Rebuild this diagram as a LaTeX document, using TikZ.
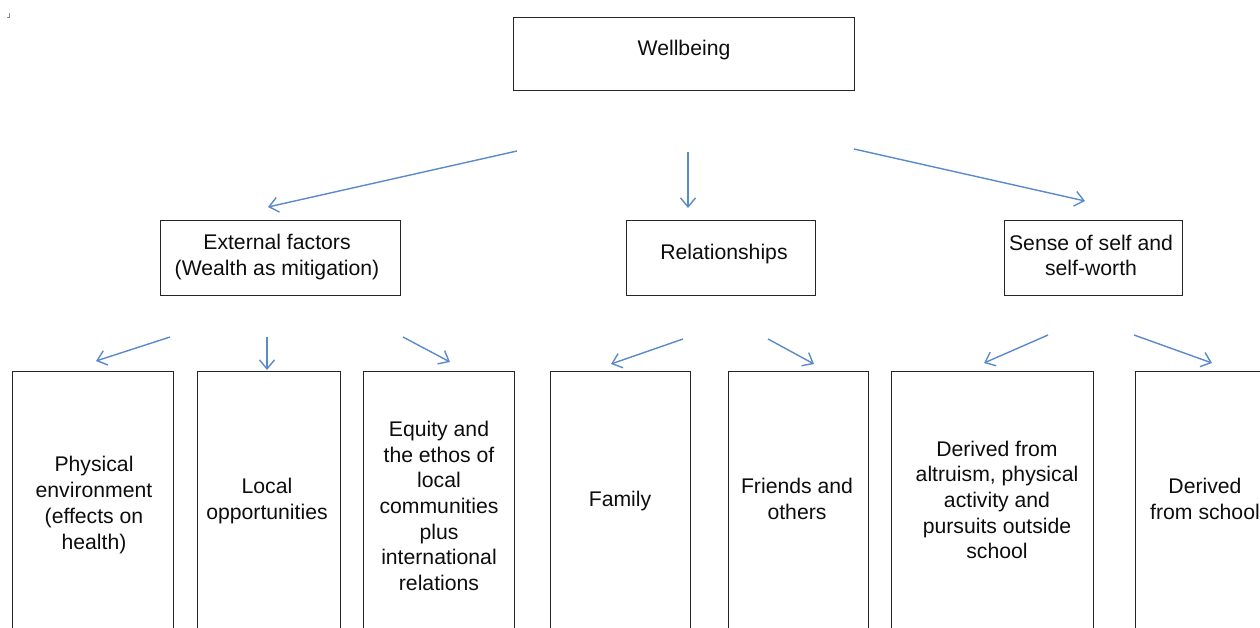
\documentclass[tikz,border=0pt]{standalone}
\usepackage{fontspec}
\setmainfont{Liberation Sans}
\usetikzlibrary{arrows.meta}
\definecolor{arrowblue}{HTML}{5A8ACB}
\definecolor{boxline}{HTML}{262626}
\begin{document}
\begin{tikzpicture}[x=1pt,y=-1pt,
  box/.style={draw=boxline, line width=0.95pt, inner sep=0pt, minimum height=#1},
  box/.default=75pt,
  txt/.style={font=\fontsize{21.2}{25.7}\selectfont, align=center, inner sep=0pt, text=black!95},
  conn/.style={draw=arrowblue, line width=1.4pt, -{Straight Barb[length=9pt,width=15pt,line width=1.4pt]}},
  cornermark/.style={draw=black!45, line width=0.8pt}]
\useasboundingbox (0,0) rectangle (1260,628);
\clip (0,0) rectangle (1260,628);
% small mark at top left
\coordinate (m1) at (9.5,13);
\coordinate (m2) at (9.5,17.5);
\coordinate (m3) at (7,17.5);
\draw[cornermark] (m1) -- (m2) -- (m3);
% top box
\node[box=73pt, minimum width=341pt] (wb) at (683.5,53.5) {};
\node[txt] (wbt) at (684,50) {Wellbeing};
% second row
\node[box, minimum width=240pt] (ext) at (280,257.5) {};
\node[txt] (extt) at (277,257) {External factors\\(Wealth as mitigation)};
\node[box, minimum width=189pt] (rel) at (720.5,257.5) {};
\node[txt] (relt) at (724,254) {Relationships};
\node[box, minimum width=178pt] (self) at (1093,257.5) {};
\node[txt] (selft) at (1091,255.5) {Sense of self and\\self-worth};
% third row
\node[box=259pt, minimum width=161pt] (phy) at (92.5,500.5) {};
\node[txt] (phyt) at (94,505) {Physical\\environment\\(effects on\\health)};
\node[box=259pt, minimum width=143pt] (loc) at (268.5,500.5) {};
\node[txt] (loct) at (267,501) {Local\\opportunities};
\node[box=259pt, minimum width=151pt] (equ) at (438.5,500.5) {};
\node[txt] (equt) at (439,506) {Equity and\\the ethos of\\local\\communities\\plus\\international\\relations};
\node[box=259pt, minimum width=140pt] (fam) at (620,500.5) {};
\node[txt] (famt) at (620,501) {Family};
\node[box=259pt, minimum width=140pt] (fri) at (798,500.5) {};
\node[txt] (frit) at (797,499) {Friends and\\others};
\node[box=259pt, minimum width=202pt] (der) at (992,500.5) {};
\node[txt] (dert) at (997,500) {Derived from\\altruism, physical\\activity and\\pursuits outside\\school};
\node[box=259pt, minimum width=142pt] (sch) at (1206,500.5) {};
\node[txt] (scht) at (1205,499) {Derived\\from school};
% arrow end points
\coordinate (wbA) at (517,151);  \coordinate (extIn) at (268,207);
\coordinate (wbB) at (688,152);  \coordinate (relIn) at (688,208);
\coordinate (wbC) at (854,149);  \coordinate (selfIn) at (1085,201);
\coordinate (extA) at (170,337); \coordinate (phyIn) at (96,361);
\coordinate (extB) at (267,337); \coordinate (locIn) at (267,370);
\coordinate (extC) at (403,337); \coordinate (equIn) at (450,362);
\coordinate (relA) at (683,339); \coordinate (famIn) at (611,364);
\coordinate (relB) at (768,339); \coordinate (friIn) at (814,364);
\coordinate (selfA) at (1048,335); \coordinate (derIn) at (984,363);
\coordinate (selfB) at (1134,335); \coordinate (schIn) at (1212,363);
\draw[conn] (wbA) -- (extIn);
\draw[conn] (wbB) -- (relIn);
\draw[conn] (wbC) -- (selfIn);
\draw[conn] (extA) -- (phyIn);
\draw[conn] (extB) -- (locIn);
\draw[conn] (extC) -- (equIn);
\draw[conn] (relA) -- (famIn);
\draw[conn] (relB) -- (friIn);
\draw[conn] (selfA) -- (derIn);
\draw[conn] (selfB) -- (schIn);
\end{tikzpicture}
\end{document}
